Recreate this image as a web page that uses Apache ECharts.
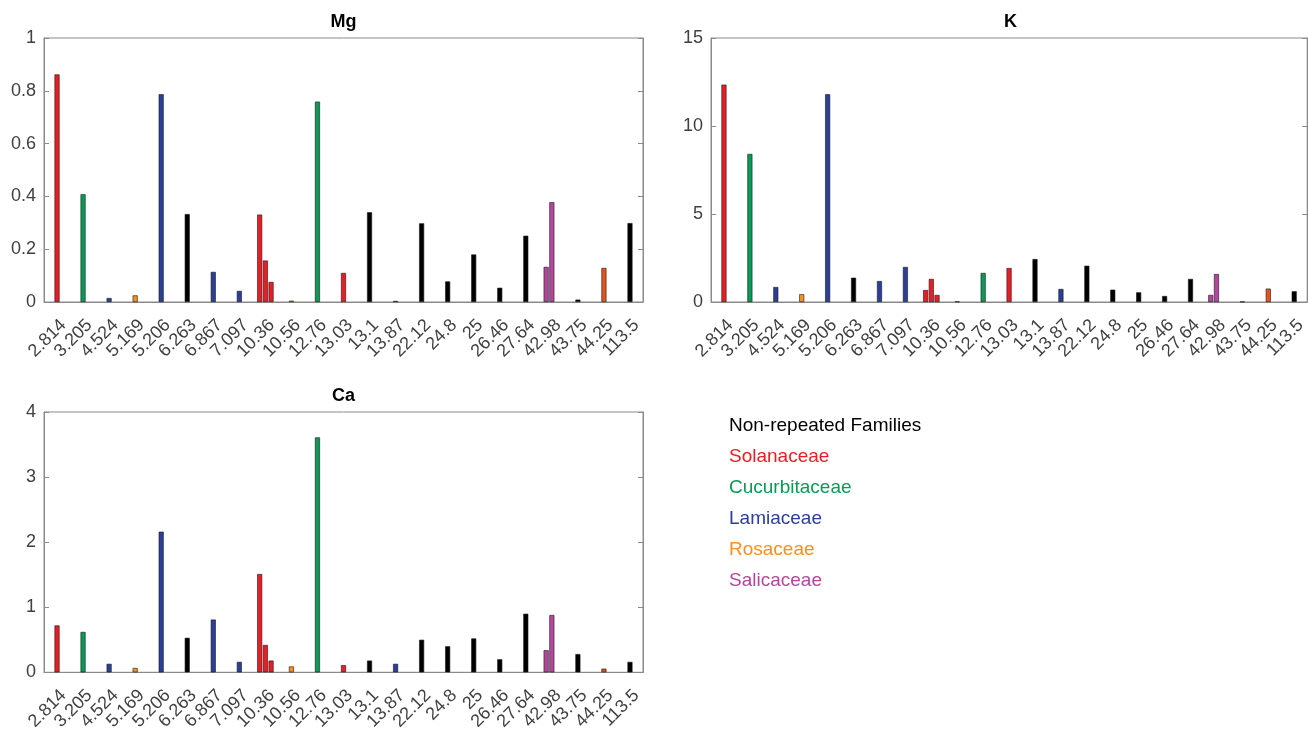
<!DOCTYPE html>
<html>
<head>
<meta charset="utf-8">
<script src="https://cdn.jsdelivr.net/npm/echarts@6/dist/echarts.min.js"></script>
<style>
  html, body { margin: 0; padding: 0; background: #fff; }
  #main { width: 1309px; height: 733px; }
</style>
</head>
<body>
<div id="main"></div>
<script>
var categories = ['2.814', '3.205', '4.524', '5.169', '5.206', '6.263', '6.867', '7.097', '10.36', '10.56',
    '12.76', '13.03', '13.1', '13.87', '22.12', '24.8', '25', '26.46', '27.64', '42.98', '43.75', '44.25', '113.5'];

var families = ['Solanaceae', 'Cucurbitaceae', 'Lamiaceae', 'Rosaceae', 'Lamiaceae', 'Non-repeated', 'Lamiaceae',
    'Lamiaceae', 'Solanaceae', 'Rosaceae', 'Cucurbitaceae', 'Solanaceae', 'Non-repeated', 'Lamiaceae',
    'Non-repeated', 'Non-repeated', 'Non-repeated', 'Non-repeated', 'Non-repeated', 'Salicaceae',
    'Non-repeated', 'Rosaceae2', 'Non-repeated'];

// three sub-bars per category (most only use the middle one)
var mgA = [null, null, null, null, null, null, null, null, 0.331, null, null, null, null, null, null, null, null, null, null, 0.133, null, null, null];
var mgB = [0.862, 0.408, 0.015, 0.025, 0.787, 0.333, 0.114, 0.042, 0.157, 0.005, 0.759, 0.110, 0.340, 0.004, 0.298, 0.078, 0.180, 0.054, 0.251, 0.378, 0.009, 0.129, 0.299];
var mgC = [null, null, null, null, null, null, null, null, 0.076, null, null, null, null, null, null, null, null, null, null, null, null, null, null];

var kA = [null, null, null, null, null, null, null, null, 0.68, null, null, null, null, null, null, null, null, null, null, 0.40, null, null, null];
var kB = [12.35, 8.41, 0.85, 0.44, 11.8, 1.38, 1.19, 1.99, 1.31, 0.03, 1.65, 1.93, 2.44, 0.74, 2.06, 0.70, 0.55, 0.34, 1.31, 1.59, 0.02, 0.76, 0.61];
var kC = [null, null, null, null, null, null, null, null, 0.40, null, null, null, null, null, null, null, null, null, null, null, null, null, null];

var caA = [null, null, null, null, null, null, null, null, 1.51, null, null, null, null, null, null, null, null, null, null, 0.34, null, null, null];
var caB = [0.72, 0.62, 0.13, 0.066, 2.16, 0.53, 0.81, 0.16, 0.42, 0.09, 3.61, 0.11, 0.18, 0.13, 0.50, 0.40, 0.52, 0.20, 0.90, 0.88, 0.28, 0.056, 0.16];
var caC = [null, null, null, null, null, null, null, null, 0.18, null, null, null, null, null, null, null, null, null, null, null, null, null, null];

var legendNames = ['Non-repeated Families', 'Solanaceae', 'Cucurbitaceae', 'Lamiaceae', 'Rosaceae', 'Salicaceae'];

var colors = {
    'Non-repeated': '#000000',
    'Solanaceae': '#ea1c24',
    'Cucurbitaceae': '#0a9a55',
    'Lamiaceae': '#2a3f98',
    'Rosaceae': '#f7901e',
    'Rosaceae2': '#e0561c',
    'Salicaceae': '#b4479d'
};
var legendColors = ['#000000', '#ea1c24', '#0a9a55', '#2a3f98', '#f7901e', '#b4479d'];

var font = '"Liberation Sans", Arial, Helvetica, sans-serif';
var axisGray = '#8a8a8a';
var labelGray = '#404040';

var grids = [
    { left: 44, top: 38, width: 599, height: 264, show: true, borderColor: axisGray, borderWidth: 1 },
    { left: 711, top: 38, width: 599, height: 264, show: true, borderColor: axisGray, borderWidth: 1 },
    { left: 44, top: 412, width: 599, height: 262, show: true, borderColor: axisGray, borderWidth: 1 }
];
var titles = ['Mg', 'K', 'Ca'];
var ranges = [[1, 0.2], [15, 5], [4, 1]];
var panelData = [[mgA, mgB, mgC], [kA, kB, kC], [caA, caB, caC]];

function barColor(p) {
    return colors[families[p.dataIndex]];
}

var xAxes = [], yAxes = [], series = [], titleList = [];
for (let g = 0; g < 3; g++) {
    xAxes.push({
        type: 'category',
        gridIndex: g,
        data: categories,
        axisLine: { lineStyle: { color: axisGray } },
        axisTick: { show: false },
        axisLabel: { interval: 0, rotate: 45, margin: 14, verticalAlign: 'top', fontSize: 18, color: labelGray, fontFamily: font }
    });
    yAxes.push({
        type: 'value',
        gridIndex: g,
        min: 0, max: ranges[g][0], interval: ranges[g][1],
        axisLine: { show: true, lineStyle: { color: axisGray } },
        axisTick: { show: true, inside: true, length: 5, lineStyle: { color: axisGray } },
        axisLabel: { fontSize: 18, color: labelGray, fontFamily: font, margin: 8 },
        splitLine: { show: false }
    });
    yAxes.push({
        type: 'value',
        gridIndex: g,
        position: 'right',
        min: 0, max: ranges[g][0], interval: ranges[g][1],
        axisLine: { show: true, lineStyle: { color: axisGray } },
        axisTick: { show: true, inside: true, length: 5, lineStyle: { color: axisGray } },
        axisLabel: { show: false },
        splitLine: { show: false }
    });
    titleList.push({
        text: titles[g],
        left: grids[g].left + grids[g].width / 2,
        top: grids[g].top - 25,
        textAlign: 'center',
        padding: 0,
        textStyle: { fontSize: 18, fontWeight: 'bold', color: '#000', fontFamily: font }
    });
    for (let s = 0; s < 3; s++) {
        series.push({
            type: 'bar',
            xAxisIndex: g,
            yAxisIndex: g * 2,
            data: panelData[g][s],
            barWidth: 5,
            barGap: '14%',
            itemStyle: { color: barColor, borderColor: '#1a1a1a', borderWidth: 0.6 },
            animation: false
        });
    }
}

var legendText = [];
for (let i = 0; i < legendNames.length; i++) {
    legendText.push({
        type: 'text',
        left: 729,
        top: 416 + i * 31,
        style: { text: legendNames[i], fill: legendColors[i], fontSize: 19, fontFamily: font }
    });
}

var myChart = echarts.init(document.getElementById('main'));
var option = {
    backgroundColor: '#fff',
    animation: false,
    title: titleList,
    grid: grids,
    xAxis: xAxes,
    yAxis: yAxes,
    series: series,
    graphic: legendText
};
myChart.setOption(option);
</script>
</body>
</html>
